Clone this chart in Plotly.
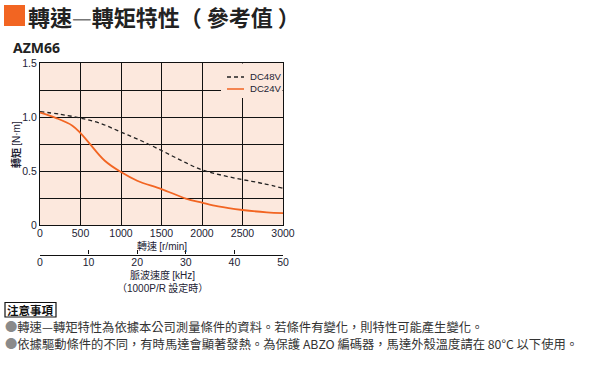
import plotly.graph_objects as go

# ---- data ----
speed_48 = [0, 250, 500, 750, 1000, 1250, 1500, 1750, 2000, 2250, 2500, 2750, 3000]
torque_48 = [1.05, 1.025, 0.99, 0.94, 0.86, 0.78, 0.69, 0.595, 0.51, 0.46, 0.42, 0.385, 0.34]
speed_24 = [0, 200, 400, 500, 600, 800, 1000, 1200, 1500, 1800, 2000, 2200, 2500, 2800, 3000]
torque_24 = [1.04, 0.99, 0.92, 0.85, 0.765, 0.595, 0.49, 0.41, 0.333, 0.245, 0.207, 0.172, 0.139, 0.117, 0.11]
x_ticks = [0, 500, 1000, 1500, 2000, 2500, 3000]
y_tickvals = [0, 0.5, 1.0, 1.5]
y_ticktext = ["0", "0.5", "1.0", "1.5"]
pulse_ticks = [0, 10, 20, 30, 40, 50]
series_names = ["DC48V", "DC24V"]

W, H = 600, 380
L, R, T, B = 40, 283, 63, 225
ORANGE = "#F26522"
BG = "#FCE8DD"
LAT = "Liberation Sans Narrow, Arial Narrow, Liberation Sans, Arial"
TICKFONT = dict(family=LAT, size=10.5, color="#222233")
CJK = "Noto Sans CJK TC"

def px(x):
    return x / W

def py(y):
    return 1 - y / H

def lat(s):
    return "<span style='font-family:Liberation Sans, Arial'>" + s + "</span>"

fig = go.Figure()
fig.add_trace(go.Scatter(x=speed_48, y=torque_48, mode="lines", name=series_names[0],
                         line=dict(color="#222222", width=1.3, dash="4px,3px"), line_shape="spline"))
fig.add_trace(go.Scatter(x=speed_24, y=torque_24, mode="lines", name=series_names[1],
                         line=dict(color=ORANGE, width=1.8), line_shape="spline"))
fig.add_trace(go.Scatter(x=[0, 50], y=[None, None], xaxis="x2", yaxis="y", showlegend=False,
                         mode="lines", hoverinfo="skip"))

fig.update_layout(
    width=W, height=H,
    margin=dict(l=0, r=0, t=0, b=0, autoexpand=False),
    paper_bgcolor="white",
    plot_bgcolor=BG,
    showlegend=False,
    xaxis=dict(domain=[px(L), px(R)], range=[0, 3000], tickvals=x_ticks, automargin=False,
               showgrid=True, gridcolor="#111111", gridwidth=1,
               showline=True, linecolor="#111111", linewidth=1, mirror=True,
               ticks="", tickfont=TICKFONT, zeroline=False, fixedrange=True, ticklabelstandoff=-2),
    yaxis=dict(domain=[py(B), py(T)], range=[0, 1.5], tickvals=y_tickvals, ticktext=y_ticktext, automargin=False,
               showgrid=True, gridcolor="#111111", gridwidth=1,
               minor=dict(dtick=0.25, tick0=0, showgrid=True, gridcolor="#111111", gridwidth=1),
               showline=True, linecolor="#111111", linewidth=1, mirror=True,
               ticks="", tickfont=TICKFONT, zeroline=False, fixedrange=True),
    xaxis2=dict(domain=[px(L), px(R)], range=[0, 50], tickvals=pulse_ticks, overlaying="x",
                anchor="free", position=py(254.5), side="bottom", automargin=False,
                showline=True, linecolor="#111111", linewidth=1.2, ticks="inside", ticklen=4,
                tickcolor="#111111", showgrid=False, zeroline=False, tickfont=TICKFONT, fixedrange=True,
                ticklabelstandoff=-2),
)

shapes = []
annotations = []

# legend box covering gridlines
shapes.append(dict(type="rect", xref="paper", yref="paper", x0=px(221), x1=px(282.5), y0=py(98), y1=py(63.5),
                   fillcolor=BG, line=dict(width=0), layer="above"))
shapes.append(dict(type="line", xref="paper", yref="paper", x0=px(227), x1=px(244), y0=py(77), y1=py(77),
                   line=dict(color="#222222", width=1.3, dash="4px,3px"), layer="above"))
shapes.append(dict(type="line", xref="paper", yref="paper", x0=px(227), x1=px(244), y0=py(89), y1=py(89),
                   line=dict(color=ORANGE, width=1.5), layer="above"))
for name, yy in zip(series_names, [77, 89]):
    annotations.append(dict(text=name, xref="paper", yref="paper", x=px(248), y=py(yy), xanchor="left",
                            yanchor="middle", showarrow=False, font=dict(family=LAT, size=9.6, color="#222233")))

# title
shapes.append(dict(type="rect", xref="paper", yref="paper", x0=px(4), x1=px(25), y0=py(26), y1=py(5),
                   fillcolor=ORANGE, line=dict(width=0)))
annotations.append(dict(text="<b>轉速</b><span style='font-weight:normal;color:#777'>—</span><b>轉矩特性（ 參考值 ）</b>",
                        xref="paper", yref="paper", x=px(26), y=py(16), xanchor="left", yanchor="middle",
                        showarrow=False, font=dict(family=CJK, size=22, color="#222222")))
annotations.append(dict(text="<b>AZM66</b>", xref="paper", yref="paper", x=px(11), y=py(48), xanchor="left",
                        yanchor="middle", showarrow=False, font=dict(family="Noto Sans, Liberation Sans", size=14, color="#222222")))

# axis titles
annotations.append(dict(text="<b>轉矩</b> " + lat("[N·m]"), xref="paper", yref="paper", x=px(15), y=py(145), textangle=-90,
                        xanchor="center", yanchor="middle", showarrow=False,
                        font=dict(family=CJK, size=10, color="#222233")))
annotations.append(dict(text="轉速 " + lat("[r/min]"), xref="paper", yref="paper", x=px(162), y=py(245.5),
                        xanchor="center", yanchor="middle", showarrow=False,
                        font=dict(family=CJK, size=10, color="#222233")))
annotations.append(dict(text="脈波速度 " + lat("[kHz]"), xref="paper", yref="paper", x=px(162), y=py(274.5),
                        xanchor="center", yanchor="middle", showarrow=False,
                        font=dict(family=CJK, size=10, color="#222233")))
annotations.append(dict(text="（" + lat("1000P/R") + " 設定時）", xref="paper", yref="paper", x=px(162), y=py(287),
                        xanchor="center", yanchor="middle", showarrow=False,
                        font=dict(family=CJK, size=10, color="#222233")))

# notes
shapes.append(dict(type="rect", xref="paper", yref="paper", x0=px(5), x1=px(56), y0=py(317), y1=py(302.5),
                   line=dict(color="#111111", width=1.2), fillcolor="rgba(0,0,0,0)"))
annotations.append(dict(text="<b>注意事項</b>", xref="paper", yref="paper", x=px(30.5), y=py(310),
                        xanchor="center", yanchor="middle", showarrow=False,
                        font=dict(family=CJK, size=11.5, color="#111111")))
notes = [
    "轉速—轉矩特性為依據本公司測量條件的資料。若條件有變化，則特性可能產生變化。",
    "依據驅動條件的不同，有時馬達會顯著發熱。為保護 ABZO 編碼器，馬達外殼溫度請在 80°C 以下使用。",
]
for note, yy in zip(notes, [327, 344]):
    annotations.append(dict(text="<span style='color:#8a8a8a'>●</span>" + note, xref="paper", yref="paper",
                            x=px(3), y=py(yy), xanchor="left", yanchor="middle", showarrow=False,
                            font=dict(family=CJK, size=12.3, color="#333333")))

fig.update_layout(shapes=shapes, annotations=annotations)
fig.write_html("out.html", config={"displayModeBar": False},
               post_script="document.body.style.margin='0';")
